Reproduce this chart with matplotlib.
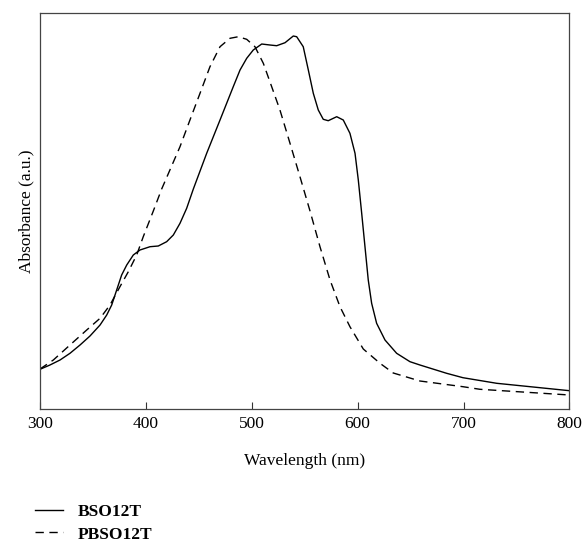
import matplotlib
matplotlib.use("Agg")
import matplotlib.pyplot as plt

# BSO12T (solid)
bso_nm = [300.0, 309.4, 318.9, 328.3, 337.8, 347.2, 356.7, 363.0, 367.7, 372.4,
          377.1, 381.9, 388.1, 394.4, 403.9, 411.7, 419.6, 425.9, 432.2, 438.5,
          444.8, 457.4, 470.0, 482.5, 488.9, 495.2, 501.4, 509.4, 517.2, 523.5,
          531.4, 539.2, 542.4, 548.6, 553.4, 558.1, 562.8, 567.5, 572.2, 580.2,
          586.4, 592.7, 597.5, 600.6, 603.8, 606.9, 610.0, 613.2, 617.9, 625.8,
          636.8, 649.4, 658.8, 684.0, 699.4, 731.3, 800.0]
bso_abs = [39.7, 44, 49, 55.7, 64, 73, 84, 94, 104, 119,
           134, 144, 154, 159, 162.3, 163, 167.3, 174, 185.7, 200.7,
           220, 255.7, 289, 322.3, 339, 350.7, 359, 365, 364, 363.3,
           366.3, 373, 372.3, 362.3, 339, 315.7, 299, 289.7, 288.3, 292.3,
           289, 275.7, 255.7, 229, 195.7, 162.3, 129, 105.7, 85.7, 69,
           55.7, 47.3, 44, 35.7, 31.3, 25.7, 18.3]

# PBSO12T (dashed)
pbso_nm = [300.0, 312.6, 328.3, 344.1, 356.7, 366.1, 375.5, 383.4, 391.3, 397.5,
           407.0, 414.9, 432.2, 441.6, 451.1, 460.5, 470.0, 479.4, 487.3, 495.2,
           503.0, 510.9, 518.8, 526.6, 536.1, 545.5, 555.0, 564.4, 573.9, 583.3,
           592.7, 605.3, 621.1, 633.6, 658.8, 699.4, 715.5, 800.0]
pbso_abs = [40, 49, 64, 79, 90.7, 104, 122.3, 137.3, 154, 172.3,
            198, 220, 262.3, 289, 315.7, 342.3, 362.3, 370.7, 372.3, 369.7,
            362.3, 345.7, 322.3, 299, 265.7, 232.3, 198, 162.3, 129, 102.3,
            82.3, 60, 45.7, 36, 28, 22.3, 19.7, 14]

plt.rcParams['font.family'] = ['Liberation Serif', 'DejaVu Serif']

fig = plt.figure(figsize=(5.85, 5.41), dpi=100)
ax = fig.add_axes([0.0684, 0.244, 0.905, 0.7325])

ax.plot(bso_nm, bso_abs, color='black', lw=1.0, label='BSO12T')
ax.plot(pbso_nm, pbso_abs, color='black', lw=1.0, linestyle=(0, (6, 4)), label='PBSO12T')

ax.set_xlim(300, 800)
ax.set_ylim(0, 396.3)
ax.set_xticks([300, 400, 500, 600, 700, 800])
ax.set_yticks([])
ax.tick_params(axis='x', direction='in', length=5, width=0.8, labelsize=12.5, pad=5, colors='#333333')
ax.tick_params(axis='x', labelcolor='black')
for s in ax.spines.values():
    s.set_color('#444444')
    s.set_linewidth(0.9)

ax.set_xlabel('Wavelength (nm)', fontsize=12.5, labelpad=15)
ax.set_ylabel('Absorbance (a.u.)', fontsize=12.5, labelpad=4)

fig.legend(loc='upper left', bbox_to_anchor=(0.0485, 0.081), frameon=False,
           prop={'weight': 'bold', 'size': 12.5}, handlelength=1.6, handletextpad=0.85,
           labelspacing=0.35, borderaxespad=0)

fig.savefig('out.png', dpi=100)
